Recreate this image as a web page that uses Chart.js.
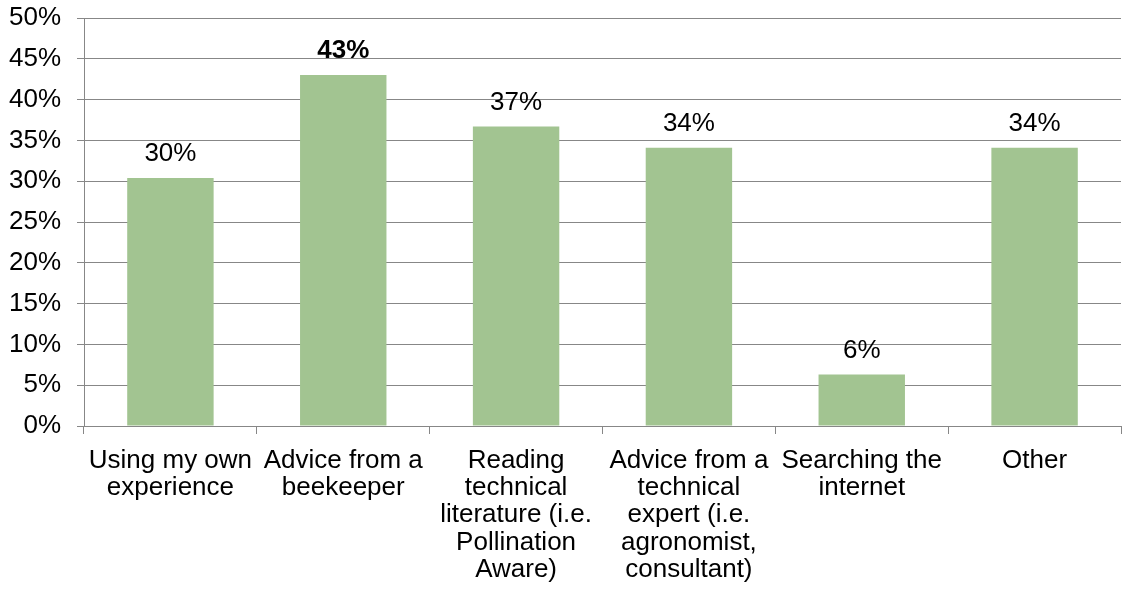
<!DOCTYPE html>
<html>
<head>
<meta charset="utf-8">
<script src="https://cdn.jsdelivr.net/npm/chart.js@4"></script>
<style>
  html, body { margin: 0; padding: 0; background: #fff; }
  #wrap { width: 1122px; height: 594px; }
</style>
</head>
<body>
<div id="wrap"><canvas id="sourceChart" width="1122" height="594"></canvas></div>
<script>
const categories = [
    ["Using my own", "experience"],
    ["Advice from a", "beekeeper"],
    ["Reading", "technical", "literature (i.e.", "Pollination", "Aware)"],
    ["Advice from a", "technical", "expert (i.e.", "agronomist,", "consultant)"],
    ["Searching the", "internet"],
    ["Other"]
];
const shares = [30.4, 43.0, 36.7, 34.1, 6.3, 34.1];
const boldLabels = [false, true, false, false, false, false];
const yTicks = [0, 5, 10, 15, 20, 25, 30, 35, 40, 45, 50];

const FONT = "'Liberation Sans', Arial, sans-serif";

// Percent labels above each bar
const barLabels = {
    id: "barLabels",
    afterDatasetsDraw(chart) {
        const ctx = chart.ctx;
        const meta = chart.getDatasetMeta(0);
        ctx.save();
        ctx.fillStyle = "#000";
        ctx.textAlign = "center";
        ctx.textBaseline = "alphabetic";
        meta.data.forEach((bar, i) => {
            ctx.font = (boldLabels[i] ? "bold " : "") + "26px " + FONT;
            ctx.fillText(Math.round(shares[i]) + "%", bar.x, bar.y - 17);
        });
        ctx.restore();
    }
};

let chart = new Chart(document.getElementById("sourceChart").getContext("2d"), {
    type: "bar",
    data: {
        labels: categories,
        datasets: [
            {
                data: shares,
                backgroundColor: "#a2c491",
                borderWidth: 0,
                barPercentage: 0.5,
                categoryPercentage: 1.0,
            },
        ],
    },
    options: {
        responsive: false,
        animation: false,
        layout: { padding: { left: 8, right: 1, top: 0, bottom: 0 } },
        plugins: {
            legend: { display: false },
            tooltip: { enabled: false },
        },
        scales: {
            x: {
                afterFit: (axis) => { axis.height = 168; },
                grid: {
                    offset: true,
                    drawOnChartArea: false,
                    drawTicks: true,
                    tickLength: 8,
                    color: "#878787",
                },
                border: { color: "#878787", width: 1 },
                ticks: {
                    color: "#000",
                    font: { family: FONT, size: 26, lineHeight: 1.05 },
                    maxRotation: 0,
                    autoSkip: false,
                    padding: 13,
                },
            },
            y: {
                min: 0,
                max: 50,
                afterBuildTicks: (axis) => { axis.ticks = yTicks.map(v => ({ value: v })); },
                afterFit: (axis) => {
                    axis.width = 76;
                    axis.paddingTop = 18;
                },
                grid: {
                    color: "#878787",
                    tickLength: 7,
                },
                border: { color: "#878787", width: 1 },
                ticks: {
                    color: "#000",
                    font: { family: FONT, size: 26 },
                    padding: 16,
                    callback: (v) => v + "%",
                },
            },
        },
    },
    plugins: [barLabels],
});
</script>
</body>
</html>
